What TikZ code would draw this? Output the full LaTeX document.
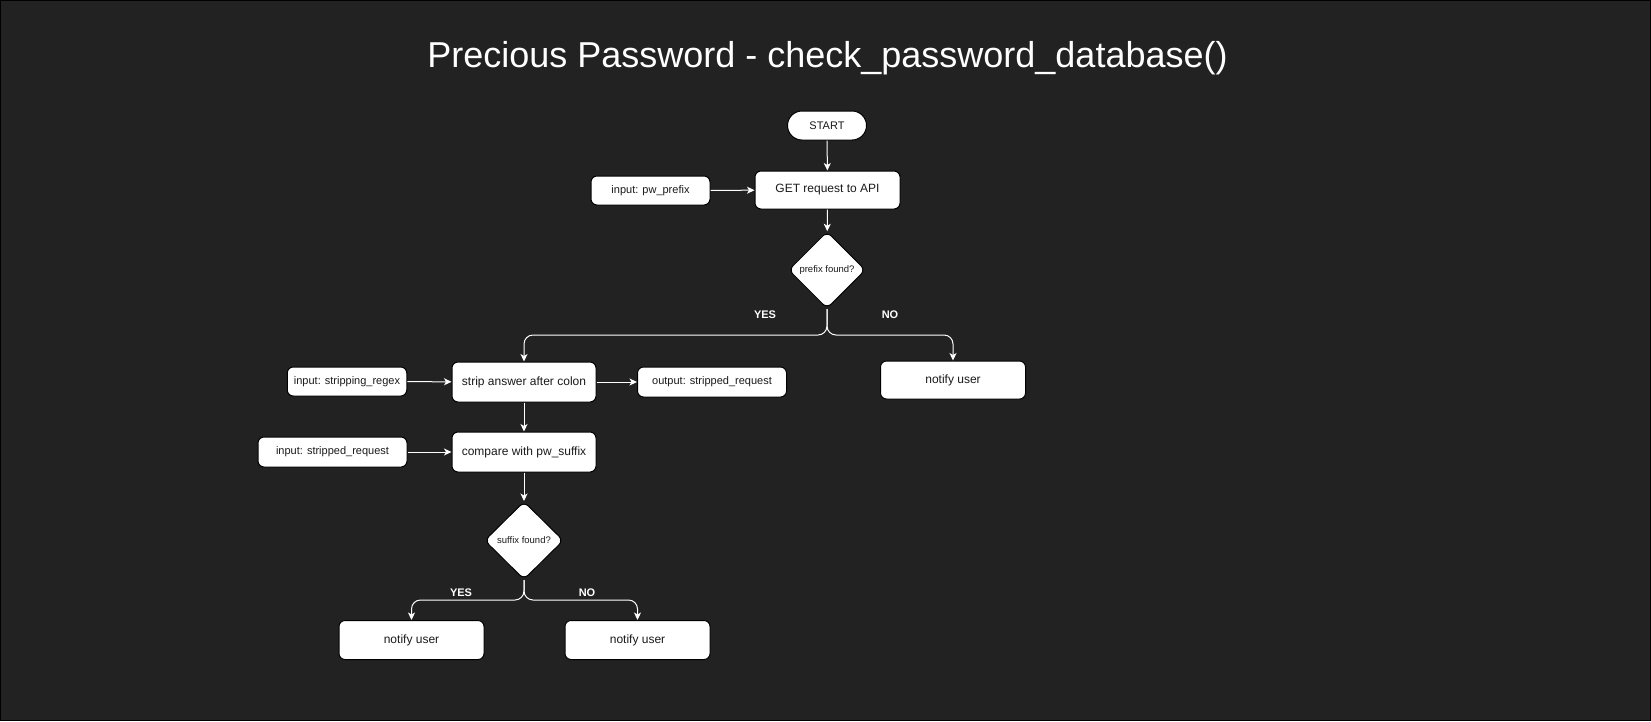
\documentclass[tikz,border=0pt]{standalone}
\usepackage{fontspec}
\setmainfont{Liberation Sans}
\usetikzlibrary{arrows.meta,shapes.geometric,calc}
\definecolor{bg}{HTML}{222222}
\definecolor{txt}{HTML}{1A1A1A}
\tikzset{
  box/.style={draw=black, line width=1pt, fill=white, rounded corners=6pt, text=txt, font=\fontsize{12}{14}\selectfont, inner sep=0pt},
  smallbox/.style={box, font=\fontsize{11}{13}\selectfont},
  startbox/.style={draw=black, line width=1pt, fill=white, rounded corners=14.5pt, text=txt, font=\fontsize{11}{13}\selectfont, inner sep=0pt, minimum width=79pt, minimum height=29pt},
  decision/.style={diamond, draw=black, line width=1pt, fill=white, rounded corners=6pt, text=txt, font=\fontsize{9.5}{11}\selectfont, inner sep=0pt, minimum width=79pt, minimum height=78pt},
  arr/.style={draw=white, line width=1pt, -{Stealth[length=7.5pt,width=7pt,inset=2pt]}},
  lbl/.style={text=white, font=\bfseries\fontsize{11}{13}\selectfont, inner sep=0pt},
}
\begin{document}
\begin{tikzpicture}[x=1pt,y=-1pt]
\path[fill=bg, draw=black, line width=1pt] (0.5,0.5) rectangle (1650.5,720.5);
\useasboundingbox (0,0) rectangle (1651,721);

\node[text=white, font=\fontsize{36}{40}\selectfont, inner sep=0pt, anchor=base] (title) at (827.5,67.3) {Precious Password - check\_password\_database()};

\node[startbox] (start) at (827,125.5) {START};
\node[box, minimum width=145pt, minimum height=38pt] (get) at (827.5,190) {GET request to API};
\node[smallbox, minimum width=119pt, minimum height=29pt] (pwp) at (650.5,190.5) {input: pw\_prefix};
\node[decision, minimum width=77pt, minimum height=77pt] (pf) at (827,270) {prefix found?};

\node[box, minimum width=144pt, minimum height=40pt] (strip) at (524,382) {strip answer after colon};
\node[smallbox, minimum width=119.5pt, minimum height=29pt] (regex) at (347,381.5) {input: stripping\_regex};
\node[smallbox, minimum width=149pt, minimum height=30pt] (outp) at (712,382) {output: stripped\_request};
\node[box, minimum width=145pt, minimum height=38pt] (nu3) at (953,380) {notify user};

\node[box, minimum width=144pt, minimum height=40pt] (cmp) at (524,452) {compare with pw\_suffix};
\node[smallbox, minimum width=149pt, minimum height=30pt] (insr) at (332.5,452) {input: stripped\_request};

\node[decision] (sf) at (524,540.5) {suffix found?};
\node[box, minimum width=145pt, minimum height=39pt] (nu1) at (411.5,640) {notify user};
\node[box, minimum width=145pt, minimum height=39pt] (nu2) at (637.5,640) {notify user};

\coordinate (b1) at (827,335);
\coordinate (b2) at (524,600);

\draw[arr] (start) -- (get);
\draw[arr] (pwp) -- (get);
\draw[arr] (get) -- (pf);
\draw[arr, rounded corners=9pt] (pf.south) -- (b1) -| (strip.north);
\draw[arr, rounded corners=9pt] (pf.south) -- (b1) -| (nu3.north);
\draw[arr] (regex) -- (strip);
\draw[arr] (strip) -- (outp);
\draw[arr] (strip) -- (cmp);
\draw[arr] (insr) -- (cmp);
\draw[arr] (cmp) -- (sf);
\draw[arr, rounded corners=9pt] (sf.south) -- (b2) -| (nu1.north);
\draw[arr, rounded corners=9pt] (sf.south) -- (b2) -| (nu2.north);

\node[lbl] (yes1) at (765,315) {YES};
\node[lbl] (no1) at (890,315) {NO};
\node[lbl] (yes2) at (461,593) {YES};
\node[lbl] (no2) at (587,593) {NO};
\end{tikzpicture}
\end{document}
